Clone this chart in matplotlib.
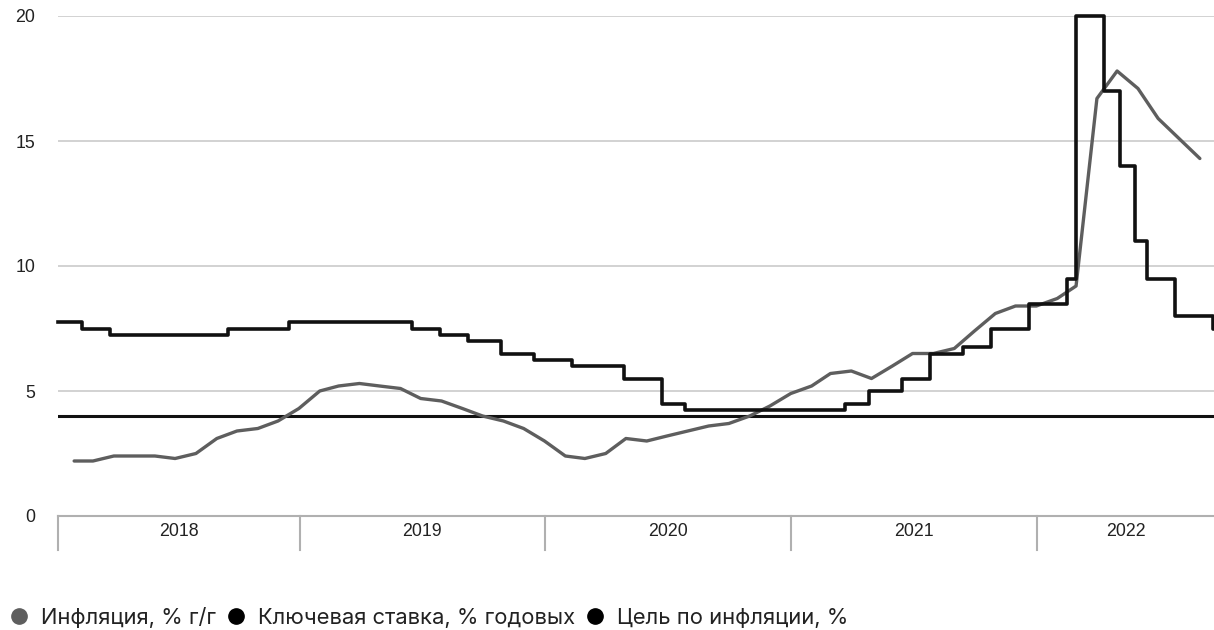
import matplotlib
matplotlib.use("Agg")
import matplotlib.pyplot as plt
from matplotlib.lines import Line2D
import matplotlib.transforms as mtransforms
import pandas as pd

# Year-on-year consumer inflation, month-end values (Jan 2018 - Aug 2022)
inflation_months = pd.date_range("2018-01-31", "2022-08-31", freq="ME")
inflation_values = [
    2.2, 2.2, 2.4, 2.4, 2.4, 2.3, 2.5, 3.1, 3.4, 3.5, 3.8, 4.3,   # 2018
    5.0, 5.2, 5.3, 5.2, 5.1, 4.7, 4.6, 4.3, 4.0, 3.8, 3.5, 3.0,   # 2019
    2.4, 2.3, 2.5, 3.1, 3.0, 3.2, 3.4, 3.6, 3.7, 4.0, 4.4, 4.9,   # 2020
    5.2, 5.7, 5.8, 5.5, 6.0, 6.5, 6.5, 6.7, 7.4, 8.1, 8.4, 8.4,   # 2021
    8.7, 9.2, 16.7, 17.8, 17.1, 15.9, 15.1, 14.3,                 # 2022
]

# Key rate: effective dates of each change
key_rate_dates = pd.to_datetime([
    "2018-01-07", "2018-02-12", "2018-03-26", "2018-09-17", "2018-12-17",
    "2019-06-17", "2019-07-29", "2019-09-09", "2019-10-28", "2019-12-16",
    "2020-02-10", "2020-04-27", "2020-06-22", "2020-07-27",
    "2021-03-22", "2021-04-26", "2021-06-15", "2021-07-26", "2021-09-13",
    "2021-10-25", "2021-12-20",
    "2022-02-14", "2022-02-28", "2022-04-11", "2022-05-04", "2022-05-27",
    "2022-06-14", "2022-07-25", "2022-09-19", "2022-09-21",
])
key_rate_values = [
    7.75, 7.50, 7.25, 7.50, 7.75,
    7.50, 7.25, 7.00, 6.50, 6.25,
    6.00, 5.50, 4.50, 4.25,
    4.50, 5.00, 5.50, 6.50, 6.75,
    7.50, 8.50,
    9.50, 20.00, 17.00, 14.00, 11.00,
    9.50, 8.00, 7.50, 7.50,
]

inflation_target = 4.0

years = ["2018", "2019", "2020", "2021", "2022"]
y_ticks = [0, 5, 10, 15, 20]

legend_labels = ["Инфляция, % г/г", "Ключевая ставка, % годовых", "Цель по инфляции, %"]

INFL_COLOR = "#5e5e5e"
RATE_COLOR = "#111111"
GRID_COLOR = "#cfcfcf"
AXIS_COLOR = "#b0b0b0"
TEXT_COLOR = "#222222"

W, H = 1214, 630
fig = plt.figure(figsize=(W / 100, H / 100), dpi=100)
ax = fig.add_axes([58 / W, (H - 516) / H, (1214 - 58) / W, 500 / H])

x_start = key_rate_dates[0]
x_end = key_rate_dates[-1]
ax.set_xlim(x_start, x_end)
ax.set_ylim(0, 20)

# horizontal grid
for v in y_ticks[1:]:
    ax.axhline(v, color=GRID_COLOR, lw=1.3, zorder=1)
ax.axhline(0, color=AXIS_COLOR, lw=1.5, zorder=1, clip_on=False)

# inflation target
ax.axhline(inflation_target, color=RATE_COLOR, lw=2.2, zorder=3)

# inflation line
ax.plot(inflation_months, inflation_values, color=INFL_COLOR, lw=2.4,
        solid_joinstyle="round", solid_capstyle="round", zorder=4)

# key rate steps
ax.step(key_rate_dates, key_rate_values, where="post", color=RATE_COLOR,
        lw=2.6, zorder=5, clip_on=False)

# axes cosmetics
for s in ax.spines.values():
    s.set_visible(False)
ax.set_yticks(y_ticks)
ax.set_yticklabels([str(t) for t in y_ticks])
ax.tick_params(axis="y", length=0, pad=16.5, labelsize=12.8, labelcolor=TEXT_COLOR)
for lab in ax.get_yticklabels():
    lab.set_fontfamily("Liberation Sans")
ax.set_xticks([])

# year separators and labels below the axis
trans = mtransforms.blended_transform_factory(ax.transData, ax.transAxes)
boundaries = [x_start] + [pd.Timestamp(f"{y}-01-01") for y in years[1:]] + [x_end]
for b in boundaries[:-1]:
    ax.plot([b, b], [0, -34 / 500], transform=trans, color=AXIS_COLOR,
            lw=1.5, clip_on=False)
for i, y in enumerate(years):
    mid = boundaries[i] + (boundaries[i + 1] - boundaries[i]) / 2
    ax.text(mid, -16 / 500, y, transform=trans, ha="center", va="center",
            fontsize=12.8, color=TEXT_COLOR, family="Liberation Sans")

# legend
handles = [
    Line2D([], [], ls="none", marker="o", markersize=11, color=INFL_COLOR),
    Line2D([], [], ls="none", marker="o", markersize=11, color="black"),
    Line2D([], [], ls="none", marker="o", markersize=11, color="black"),
]
leg = fig.legend(handles, legend_labels, loc="center left",
                 bbox_to_anchor=(4 / W, (H - 617) / H), ncol=3, frameon=False,
                 handlelength=1.0, handletextpad=0.5, columnspacing=0.4,
                 borderaxespad=0, borderpad=0.2,
                 prop={"family": "Inter", "size": 15.8})
for t in leg.get_texts():
    t.set_color(TEXT_COLOR)

fig.savefig("out.png", dpi=100, facecolor="white")
